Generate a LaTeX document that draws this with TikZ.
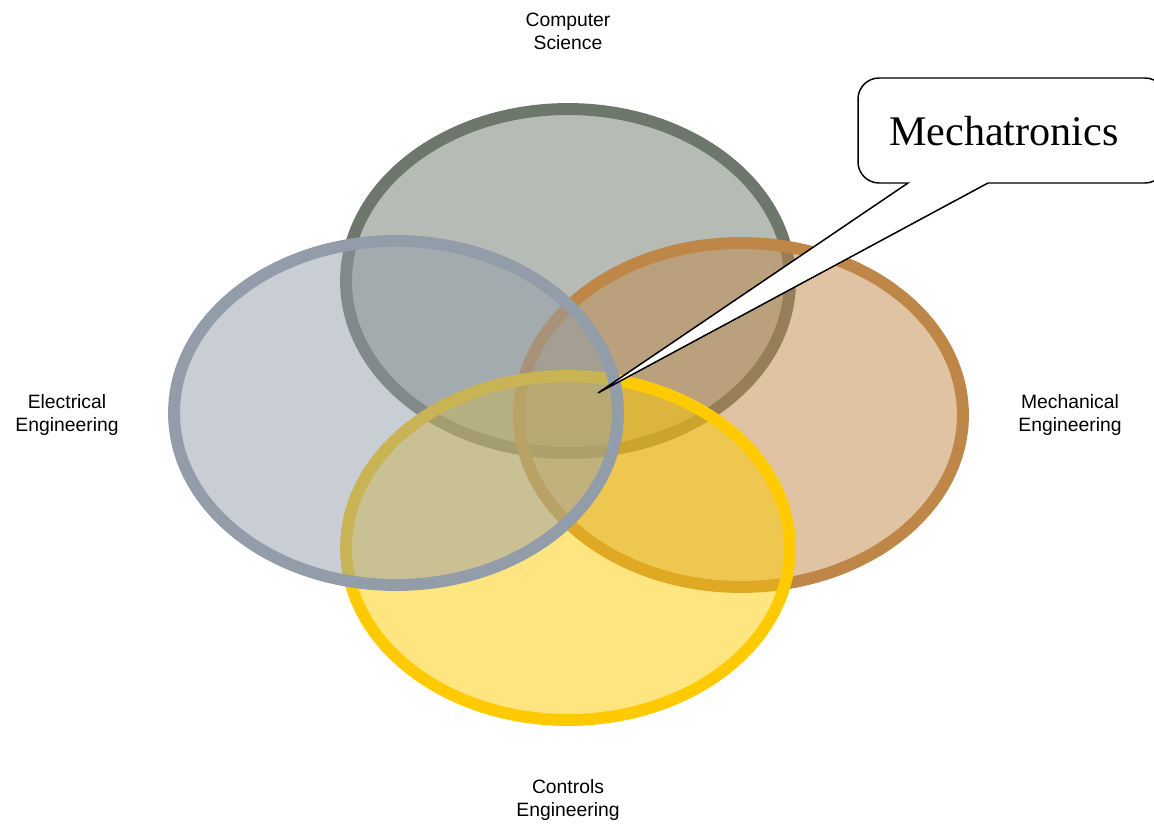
\documentclass[tikz,border=0pt]{standalone}
\usepackage{fontspec}
\setmainfont{Liberation Sans}
\newfontfamily\calloutfont{Liberation Serif}
\usetikzlibrary{shapes.geometric}

\definecolor{csgray}{HTML}{6D776B}
\definecolor{eeblue}{HTML}{939DAA}
\definecolor{mebrown}{HTML}{BF8747}
\definecolor{ceyellow}{HTML}{FFCB00}

\begin{document}
\begin{tikzpicture}[x=0.02cm, y=-0.02cm,
  field/.style={draw, ellipse, inner sep=0pt, line width=6.8pt,
    minimum width=8.88cm, minimum height=6.88cm},
  discipline/.style={align=center, font=\fontsize{11}{13}\selectfont}]
\useasboundingbox (0,0) rectangle (1154,824);
\clip (0,0) rectangle (1154,824);

\node[field, draw=csgray, fill=csgray, fill opacity=0.5] (cs) at (568,281) {};
\node[field, draw=mebrown, fill=mebrown, fill opacity=0.5] (me) at (741,415) {};
\node[field, draw=ceyellow, fill=ceyellow, fill opacity=0.5] (ce) at (568,548) {};
\node[field, draw=eeblue, fill=eeblue, fill opacity=0.5] (ee) at (396,413) {};

\node[discipline] (cslabel) at (568,31) {Computer\\Science};
\node[discipline] (eelabel) at (67,415) {Electrical\\Engineering};
\node[discipline] (melabel) at (1070,415) {Mechanical\\Engineering};
\node[discipline] (celabel) at (568,800) {Controls\\Engineering};

% callout
\coordinate (tip) at (598,393);
\path[draw, fill=white, line width=0.85pt] (908,183) -- (tip) -- (988,183)
  [rounded corners=12pt] -- (1166,183) -- (1166,78) -- (858,78) -- (858,183)
  [sharp corners] -- cycle;
\node[font=\calloutfont\fontsize{24}{28}\selectfont] (mtx) at (1004,131) {Mechatronics};
\end{tikzpicture}
\end{document}
